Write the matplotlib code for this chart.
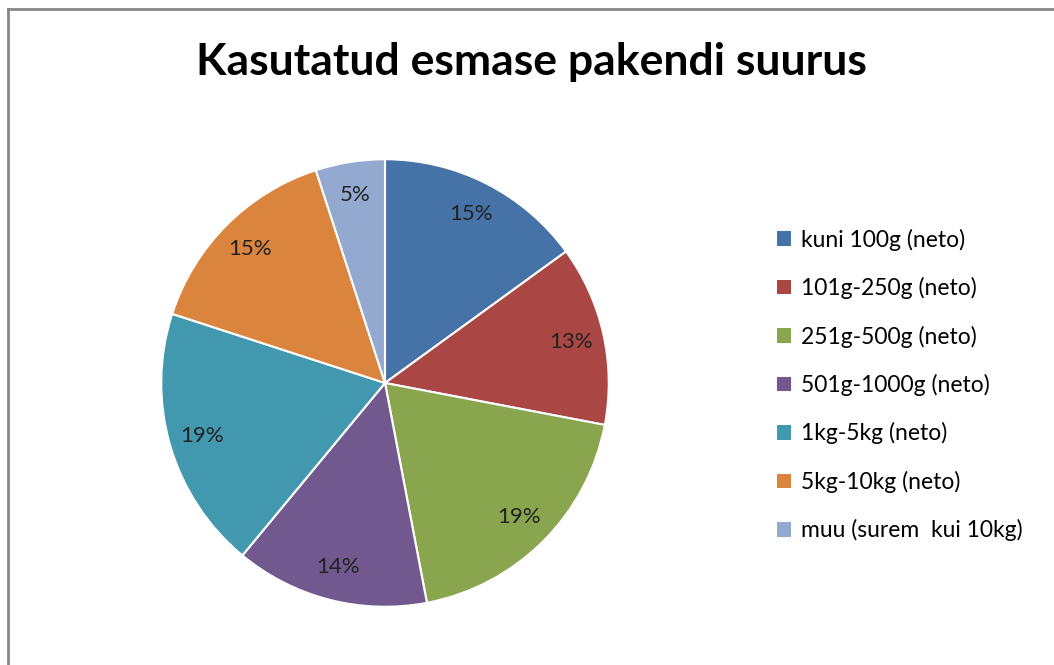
import matplotlib.pyplot as plt
from matplotlib.patches import Patch
from matplotlib.lines import Line2D

plt.rcParams['font.family'] = ['Lato', 'DejaVu Sans']

# Andmed
kategooriad = ['kuni 100g (neto)', '101g-250g (neto)', '251g-500g (neto)',
               '501g-1000g (neto)', '1kg-5kg (neto)', '5kg-10kg (neto)',
               'muu (surem  kui 10kg)']
protsendid = [15, 13, 19, 14, 19, 15, 5]
varvid = ['#4572A7', '#AA4643', '#89A54E', '#71588F', '#4198AF', '#DB843D', '#93A9CF']

W, H = 1054, 665
fig = plt.figure(figsize=(W / 100, H / 100), dpi=100)

# Pirukas
cx, cy, r = 385, 383, 226
ax = fig.add_axes([(cx - r) / W, (H - cy - r) / H, 2 * r / W, 2 * r / H])
ax.pie(protsendid, colors=varvid, startangle=90, counterclock=False,
       autopct='%d%%', pctdistance=0.85,
       wedgeprops=dict(edgecolor='white', linewidth=1.5),
       textprops=dict(fontsize=16, color='#222222'))
ax.set_xlim(-1.01, 1.01)
ax.set_ylim(-1.01, 1.01)
ax.set_aspect('equal')

# Pealkiri
fig.text(531 / W, 1 - 62 / H, 'Kasutatud esmase pakendi suurus',
         ha='center', va='center', fontsize=32, fontweight='bold')

# Legend
kastid = [Patch(facecolor=c, edgecolor='none') for c in varvid]
leg = fig.legend(kastid, kategooriad, loc='center left',
                 bbox_to_anchor=(777 / W, 1 - 385 / H), frameon=False,
                 fontsize=16.5, handlelength=0.6, handleheight=0.6,
                 handletextpad=0.45, labelspacing=1.15,
                 borderpad=0, borderaxespad=0)

# Raam (vasak ja ülemine serv)
fig.add_artist(Line2D([8 / W, 8 / W], [0, 1 - 9 / H], color='#888888', lw=2,
                      transform=fig.transFigure))
fig.add_artist(Line2D([8 / W, 1], [1 - 9 / H, 1 - 9 / H], color='#888888', lw=2,
                      transform=fig.transFigure))

fig.savefig('out.png', dpi=100)
